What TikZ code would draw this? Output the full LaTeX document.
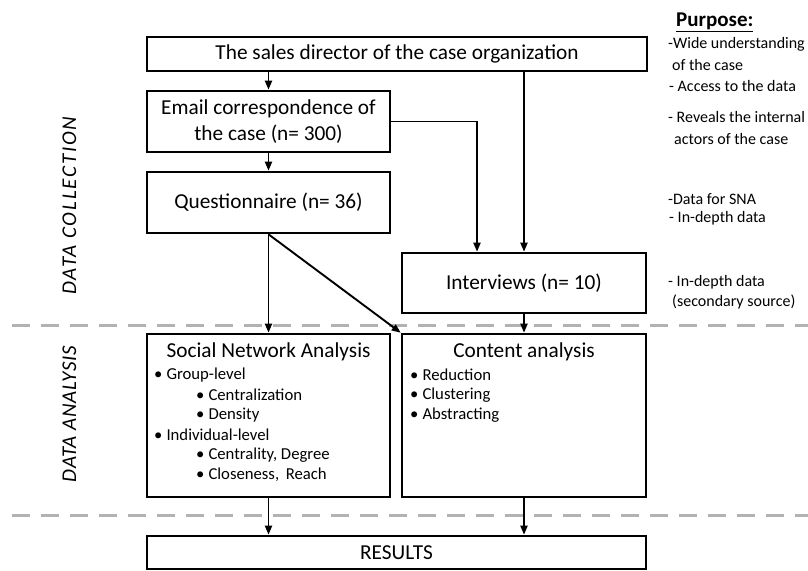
\documentclass[tikz,border=0pt]{standalone}
\usepackage{fontspec}
\setmainfont{Carlito}
\usetikzlibrary{arrows.meta,calc}
\newcommand{\bul}{•\kern4pt\relax}
\begin{document}
\begin{tikzpicture}[x=1pt,y=-1pt,
  box/.style={draw=black,line width=2.6pt,fill=white,inner sep=0pt,
    font=\fontsize{21.3}{26}\selectfont,align=center},
  arr/.style={line width=1.9pt,-{Triangle[length=9pt,width=7pt]}},
  sep/.style={draw=black!30,line width=3pt,dash pattern=on 18pt off 11pt},
  side/.style={rotate=90,inner sep=0pt,font=\fontsize{21}{24}\selectfont\itshape},
  item/.style={anchor=west,inner sep=0pt,font=\fontsize{16.7}{20}\selectfont},
  note/.style={anchor=west,inner sep=0pt,font=\fontsize{16}{20}\selectfont}]
\useasboundingbox (0,0) rectangle (808,570);
\fill[white] (0,0) rectangle (808,570);

% phase separators
\draw[sep] (12,325) -- (808,325);
\draw[sep] (12,515) -- (808,515);

% phase labels
\node[side] (lcoll) at (69.5,205.5) {\addfontfeatures{LetterSpace=8.5}DATA COLLECTION};
\node[side] (lana) at (69.5,414) {\addfontfeatures{LetterSpace=3.5}DATA ANALYSIS};

% boxes
\node[box,minimum width=500pt,minimum height=34pt] (top) at (397,54)
  {The sales director of the case organization};
\node[box,minimum width=243pt,minimum height=61pt] (email) at (268.5,121.5)
  {Email correspondence of\\the case (n= 300)};
\node[box,minimum width=243pt,minimum height=61pt] (quest) at (268.5,202.5)
  {Questionnaire (n= 36)};
\node[box,minimum width=244pt,minimum height=60pt] (intv) at (524,283)
  {Interviews (n= 10)};
\node[box,minimum width=243pt,minimum height=163pt] (sna) at (268.5,415.5) {};
\node[box,minimum width=244pt,minimum height=163pt] (cont) at (524,415.5) {};
\node[box,minimum width=499pt,minimum height=33pt] (res) at (396.5,552.5)
  {RESULTS};

% box contents
\node[inner sep=0pt,font=\fontsize{21.3}{26}\selectfont] (snat) at (268.5,352)
  {Social Network Analysis};
\node[item] (s1) at (154,375) {\bul Group-level};
\node[item] (s2) at (196,395) {\bul Centralization};
\node[item] (s3) at (196,415) {\bul Density};
\node[item] (s4) at (154,435) {\bul Individual-level};
\node[item] (s5) at (196,455) {\bul Centrality, Degree};
\node[item] (s6) at (196,475) {\bul Closeness,\, Reach};

\node[inner sep=0pt,font=\fontsize{21.3}{26}\selectfont] (contt) at (524,352)
  {Content analysis};
\node[item] (c1) at (410,375) {\bul Reduction};
\node[item] (c2) at (410,395) {\bul Clustering};
\node[item] (c3) at (410,415) {\bul Abstracting};

% purpose column
\node[anchor=west,inner sep=0pt,font=\fontsize{21}{24}\selectfont\bfseries] (ph) at (676,22)
  {\underline{Purpose:}};
\node[note] (p1) at (668,44) {-Wide understanding};
\node[note] (p2) at (672,65) {of the case};
\node[note] (p3) at (669,86) {- Access to the data};
\node[note] (p4) at (668,117) {- Reveals the internal};
\node[note] (p5) at (674,139) {actors of the case};
\node[note] (p6) at (668,199) {-Data for SNA};
\node[note] (p7) at (669,218) {- In-depth data};
\node[note] (p8) at (668,282) {- In-depth data};
\node[note] (p9) at (672,302) {(secondary source)};

% connectors
\coordinate (emailturn) at ([xshift=-47pt]intv.north);
\draw[arr] (top.south -| email.north) -- (email.north);
\draw[arr] (email.south) -- (quest.north);
\draw[arr] (top.south -| intv.north) -- (intv.north);
\draw[arr] (email.east) -| (emailturn);
\draw[arr] (quest.south) -- (sna.north);
\draw[arr] (quest.south) -- (cont.north west);
\draw[arr] (intv.south) -- (cont.north);
\draw[arr] (sna.south) -- (sna.south |- res.north);
\draw[arr] (cont.south) -- (cont.south |- res.north);
\end{tikzpicture}
\end{document}
